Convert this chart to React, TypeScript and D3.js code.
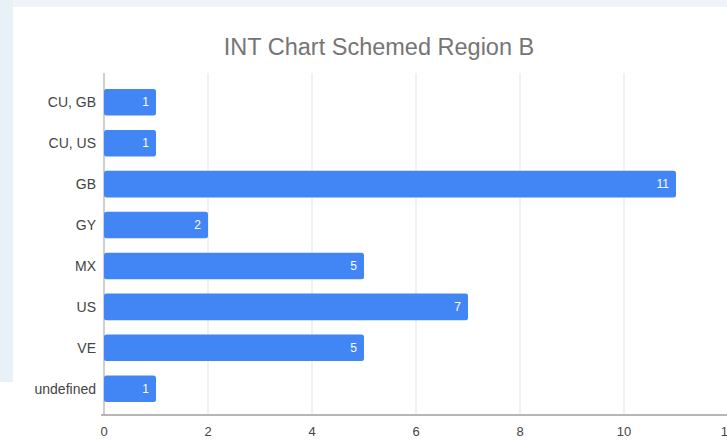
import React from 'react'
import * as d3 from 'd3'

const categories = ['CU, GB', 'CU, US', 'GB', 'GY', 'MX', 'US', 'VE', 'undefined']
const counts = [1, 1, 11, 2, 5, 7, 5, 1]
const xTicks = [0, 2, 4, 6, 8, 10, 12]
const title = 'INT Chart Schemed Region B'

const W = 727
const H = 440

const App: React.FC = () => {
  const x = d3.scaleLinear().domain([0, 12]).range([104, 728])
  const y = d3.scaleBand<string>().domain(categories).range([82, 409]).paddingInner(0.35).paddingOuter(0.17)

  const plotTop = 73
  const plotBottom = 415

  return (
    <div style={{ position: 'absolute', left: 0, top: 0 }}>
      <svg width={W} height={H} style={{ display: 'block', fontFamily: 'Arial, "Liberation Sans", sans-serif' }}>
        <rect x={0} y={0} width={W} height={H} fill="#ffffff" />
        {/* blueish page behind the card */}
        <rect x={0} y={0} width={W} height={7} fill="#eef4fa" />
        <rect x={0} y={0} width={13} height={382} fill="#e8f0f8" />

        <text x={379} y={55} textAnchor="middle" fontSize={23.5} fill="#757575">
          {title}
        </text>

        {/* grid */}
        {xTicks.map(t => (
          <line
            key={'g' + t}
            x1={x(t)}
            x2={x(t)}
            y1={plotTop}
            y2={plotBottom}
            stroke={t === 0 ? '#9e9e9e' : '#e3e3e3'}
            strokeWidth={1}
          />
        ))}

        {/* bars */}
        {categories.map((c, i) => {
          const y0 = y(c) as number
          const bw = y.bandwidth()
          const x1 = x(counts[i])
          return (
            <g key={c}>
              <rect x={x(0)} y={y0} width={x1 - x(0)} height={bw} rx={2.5} fill="#4285f4" />
              <text
                x={x1 - 7}
                y={y0 + bw / 2}
                dy="0.35em"
                textAnchor="end"
                fontSize={12}
                fill="#ffffff"
              >
                {counts[i]}
              </text>
              <text x={96} y={y0 + bw / 2} dy="0.35em" textAnchor="end" fontSize={14} fill="#444444">
                {c}
              </text>
            </g>
          )
        })}

        {/* bottom axis */}
        <line x1={x(0) - 3} x2={W} y1={plotBottom} y2={plotBottom} stroke="#9e9e9e" strokeWidth={1.5} />
        {xTicks.map(t => (
          <text key={'t' + t} x={x(t)} y={436} textAnchor="middle" fontSize={13} fill="#444444">
            {t}
          </text>
        ))}
      </svg>
    </div>
  )
}

export default App
